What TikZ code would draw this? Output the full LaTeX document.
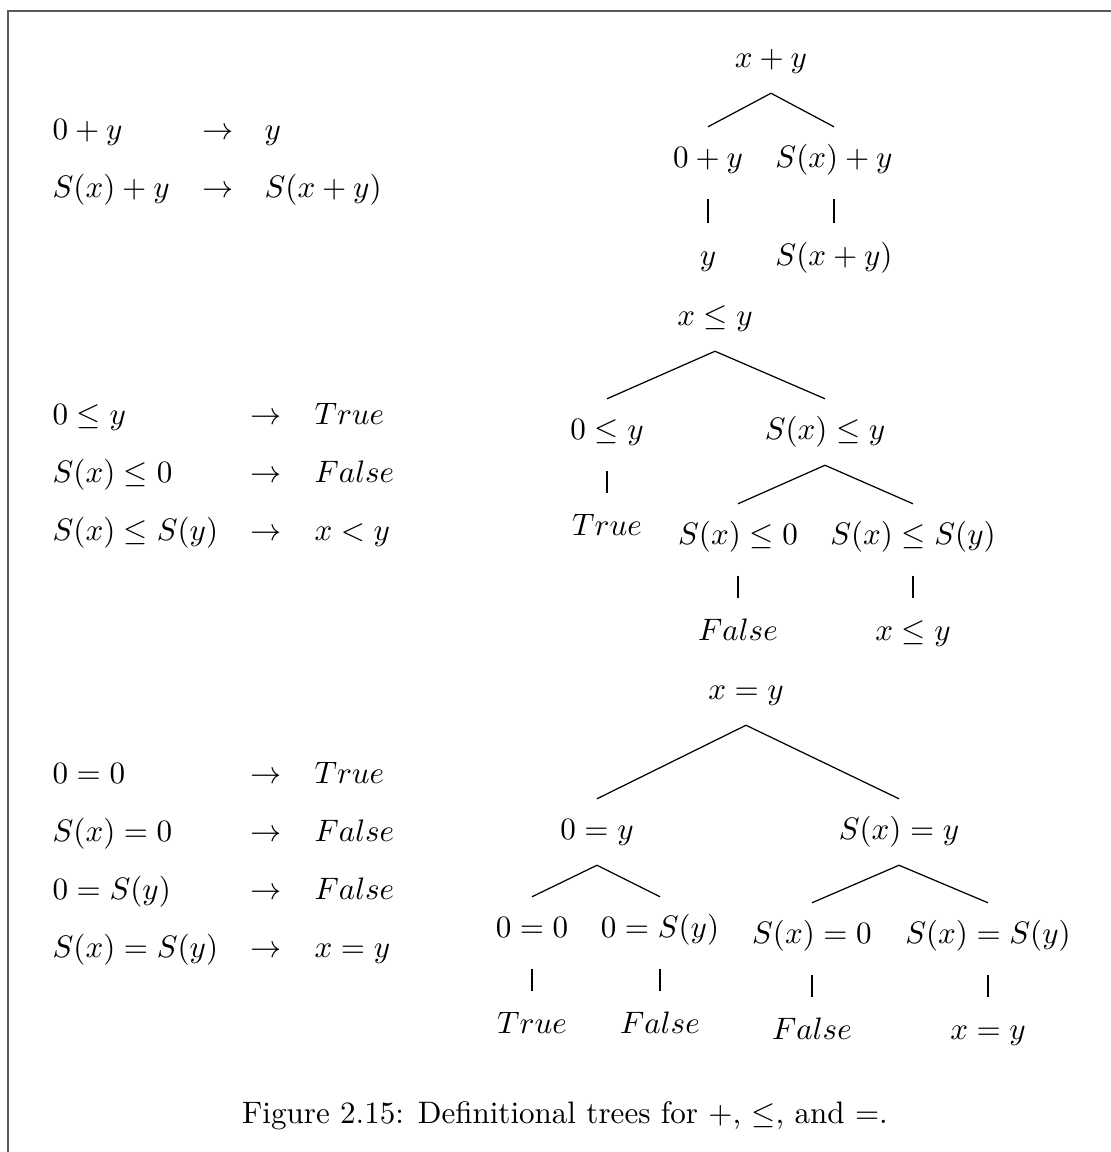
\documentclass[tikz,border=0pt]{standalone}
\usepackage{amsmath,amssymb}
\usetikzlibrary{calc}

\begin{document}
\begin{tikzpicture}[x=0.322pt, y=-0.322pt]
        \tikzset{term/.style={inner sep=0pt, text height=7.5pt, text depth=2.5pt, minimum height=21pt},
                 rule/.style={term, anchor=west},
                 edge/.style={line width=0.4pt},
                 stem/.style={edge, shorten <=1.8pt, shorten >=0.6pt}}
        \useasboundingbox (0,0) rectangle (1111,1152);
        % frame
        \draw[black!65, line width=0.5pt] (8,1152) -- (8,11) -- (1111,11);

        % rules for +
        \node[rule] (pa) at (52,132) {$0+y$};
        \node[term] (pb) at (218,132) {$\rightarrow$};
        \node[rule] (pc) at (264,132) {$y$};
        \node[rule] (pd) at (52,190) {$S(x)+y$};
        \node[term] (pe) at (218,190) {$\rightarrow$};
        \node[rule] (pf) at (264,190) {$S(x+y)$};

        % rules for <=
        \node[rule] (la) at (52,417) {$0\leq y$};
        \node[term] (lb) at (266,417) {$\rightarrow$};
        \node[rule] (lc) at (314,417) {$True$};
        \node[rule] (ld) at (52,475) {$S(x)\leq 0$};
        \node[term] (le) at (266,475) {$\rightarrow$};
        \node[rule] (lf) at (314,475) {$False$};
        \node[rule] (lg) at (52,533) {$S(x)\leq S(y)$};
        \node[term] (lh) at (266,533) {$\rightarrow$};
        \node[rule] (li) at (314,533) {$x<y$};

        % rules for =
        \node[rule] (ea) at (52,776) {$0=0$};
        \node[term] (eb) at (266,776) {$\rightarrow$};
        \node[rule] (ec) at (314,776) {$True$};
        \node[rule] (ed) at (52,834) {$S(x)=0$};
        \node[term] (ee) at (266,834) {$\rightarrow$};
        \node[rule] (ef) at (314,834) {$False$};
        \node[rule] (eg) at (52,892) {$0=S(y)$};
        \node[term] (eh) at (266,892) {$\rightarrow$};
        \node[rule] (ei) at (314,892) {$False$};
        \node[rule] (ej) at (52,950) {$S(x)=S(y)$};
        \node[term] (ek) at (266,950) {$\rightarrow$};
        \node[rule] (el) at (314,950) {$x=y$};

        % tree for +
        \node[term] (p0) at (771,60) {$x+y$};
        \node[term] (p1) at (708,160) {$0+y$};
        \node[term] (p2) at (834,160) {$S(x)+y$};
        \node[term] (p3) at (708,258) {$y$};
        \node[term] (p4) at (834,258) {$S(x+y)$};
        \draw[edge] (p0.south) -- (p1.north);
        \draw[edge] (p0.south) -- (p2.north);
        \draw[stem] (p1.south) -- (p3.north);
        \draw[stem] (p2.south) -- (p4.north);

        % tree for <=
        \node[term] (l0) at (715,318) {$x\leq y$};
        \node[term] (l1) at (607,432) {$0\leq y$};
        \node[term] (l2) at (825,432) {$S(x)\leq y$};
        \node[term] (l3) at (607,528) {$True$};
        \node[term] (l4) at (738,537) {$S(x)\leq 0$};
        \node[term] (l5) at (913,537) {$S(x)\leq S(y)$};
        \node[term] (l6) at (738,633) {$False$};
        \node[term] (l7) at (913,633) {$x\leq y$};
        \draw[edge] (l0.south) -- (l1.north);
        \draw[edge] (l0.south) -- (l2.north);
        \draw[stem] (l1.south) -- (l3.north);
        \draw[edge] (l2.south) -- (l4.north);
        \draw[edge] (l2.south) -- (l5.north);
        \draw[stem] (l4.south) -- (l6.north);
        \draw[stem] (l5.south) -- (l7.north);

        % tree for =
        \node[term] (e0) at (746,692) {$x=y$};
        \node[term] (e1) at (597,832) {$0=y$};
        \node[term] (e2) at (899,832) {$S(x)=y$};
        \node[term] (e3) at (532,930) {$0=0$};
        \node[term] (e4) at (660,930) {$0=S(y)$};
        \node[term] (e5) at (812,936) {$S(x)=0$};
        \node[term] (e6) at (988,936) {$S(x)=S(y)$};
        \node[term] (e7) at (532,1026) {$True$};
        \node[term] (e8) at (660,1026) {$False$};
        \node[term] (e9) at (812,1032) {$False$};
        \node[term] (e10) at (988,1032) {$x=y$};
        \draw[edge] (e0.south) -- (e1.north);
        \draw[edge] (e0.south) -- (e2.north);
        \draw[edge] (e1.south) -- (e3.north);
        \draw[edge] (e1.south) -- (e4.north);
        \draw[edge] (e2.south) -- (e5.north);
        \draw[edge] (e2.south) -- (e6.north);
        \draw[stem] (e3.south) -- (e7.north);
        \draw[stem] (e4.south) -- (e8.north);
        \draw[stem] (e5.south) -- (e9.north);
        \draw[stem] (e6.south) -- (e10.north);

        \node (cap) at (565,1116) {Figure 2.15: Definitional trees for $+$, $\leq$, and $=$.};
\end{tikzpicture}
\end{document}
